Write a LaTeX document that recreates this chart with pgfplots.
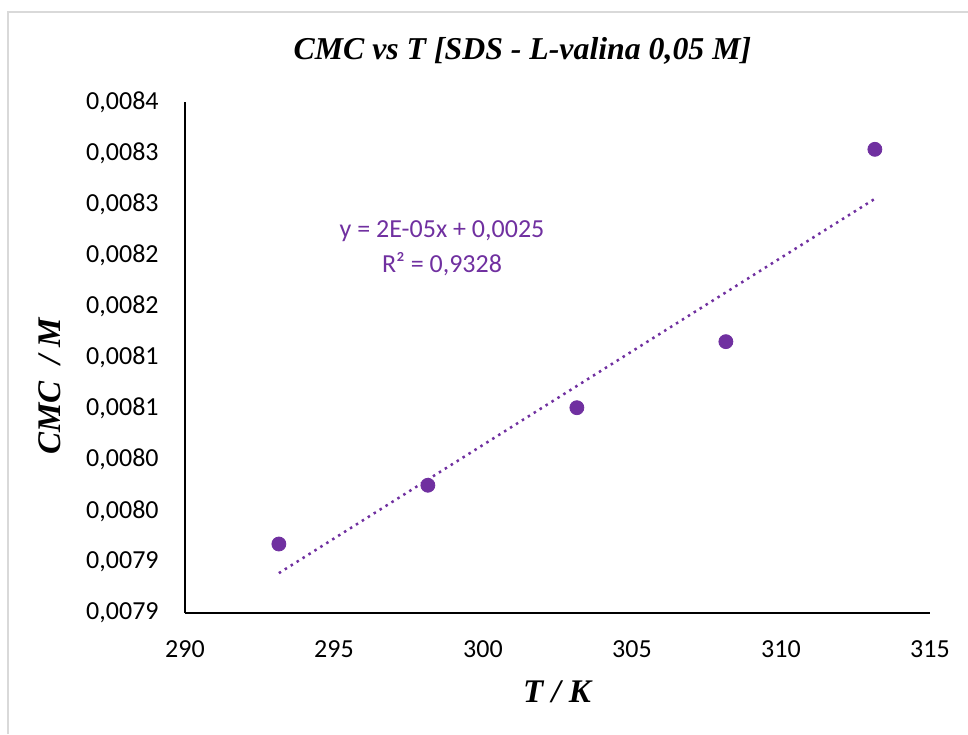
\documentclass[border=0pt]{standalone}
\usepackage{fontspec}
\usepackage{pgfplots}
\pgfplotsset{compat=1.18}
\setmainfont{Carlito}
\newfontfamily\timesf{Liberation Serif}
\definecolor{excelpurple}{HTML}{7030A0}
\definecolor{bordergray}{HTML}{D9D9D9}
\begin{document}
\begin{tikzpicture}[x=1pt,y=1pt]
\path[use as bounding box] (0,0) rectangle (484,367);
\draw[bordergray, line width=0.8pt] (4,0) -- (4,361) -- (484,361);
\begin{axis}[
  at={(92.5pt,60.5pt)}, anchor=south west,
  scale only axis, width=372.5pt, height=255.5pt,
  xmin=290, xmax=315, ymin=0.00785, ymax=0.00835,
  axis x line*=bottom, axis y line*=left,
  axis line style={line width=1pt, black, -},
  major tick length=0pt,
  xtick={290,295,300,305,310,315},
  xticklabels={290,295,300,305,310,315},
  ytick={0.00785,0.0079,0.00795,0.008,0.00805,0.0081,0.00815,0.0082,0.00825,0.0083,0.00835},
  yticklabels={{0,0079},{0,0079},{0,0080},{0,0080},{0,0081},{0,0081},{0,0082},{0,0082},{0,0083},{0,0083},{0,0084}},
  ticklabel style={font=\fontsize{13}{15}\selectfont, inner sep=0pt},
  yticklabel style={anchor=east, xshift=-13pt},
  xticklabel style={anchor=north, yshift=-13.5pt},
  scaled y ticks=false,
  clip=false,
]
\addplot[only marks, mark=*, mark size=3.5pt, excelpurple, mark options={fill=excelpurple, draw=excelpurple}]
coordinates {
(293.15,0.0079175)
(298.15,0.0079750)
(303.15,0.0080509)
(308.15,0.0081155)
(313.15,0.0083037)
};
\addplot[excelpurple, line width=1.25pt, dash pattern=on 1.25pt off 2.25pt]
coordinates {
(293.15,0.0078890)
(313.15,0.0082553)
};
\end{axis}
\node[anchor=base, font=\timesf\bfseries\itshape\fontsize{15.9}{19}\selectfont] at (261.2,337) {CMC vs T [SDS - L-valina 0,05 M]};
\node[anchor=base, font=\timesf\bfseries\itshape\fontsize{16.5}{20}\selectfont] at (278.5,16) {T / K};
\node[anchor=base, rotate=90, font=\timesf\bfseries\itshape\fontsize{16.5}{20}\selectfont] at (30,173.75) {CMC~ / M};
\node[anchor=base, text=excelpurple, font=\fontsize{13}{15}\selectfont] at (221,248) {y = 2E-05x + 0,0025};
\node[anchor=base, text=excelpurple, font=\fontsize{13}{15}\selectfont] at (221,230.5) {R² = 0,9328};
\end{tikzpicture}
\end{document}
